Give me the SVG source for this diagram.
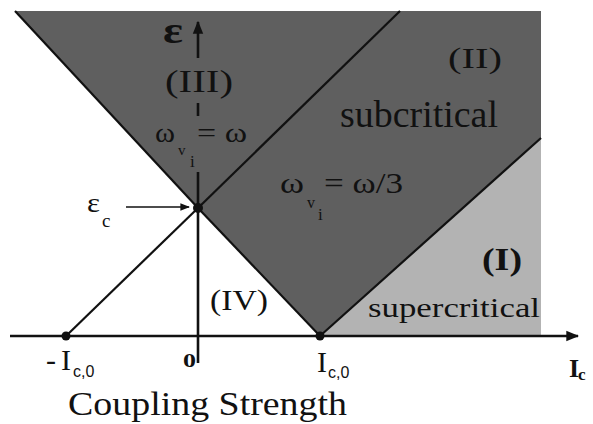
<svg xmlns="http://www.w3.org/2000/svg" width="593" height="424" viewBox="0 0 593 424">
<style>
text{font-family:'Liberation Serif','DejaVu Serif',serif;fill:#111}
.b{font-weight:bold}
.s{font-family:'Liberation Sans','DejaVu Sans',sans-serif}
.ln{stroke:#111;stroke-width:2.2;fill:none}
.ax{stroke:#111;stroke-width:2.6;fill:none}
</style>
<defs>
<marker id="ah" viewBox="0 0 10 10" refX="9" refY="5" markerWidth="5" markerHeight="5" orient="auto" markerUnits="strokeWidth"><path d="M0,1 L10,5 L0,9 Z" fill="#111"/></marker>
<marker id="ahs" viewBox="0 0 10 10" refX="9" refY="5" markerWidth="7" markerHeight="6" orient="auto" markerUnits="strokeWidth"><path d="M0,1 L10,5 L0,9 Z" fill="#111"/></marker>
</defs>
<rect width="593" height="424" fill="#fff"/>
<g id="regions">
<polygon id="region-dark" points="15,11 541,11 541,138 320,336 198,208" fill="#5f5f5f"/>
<polygon id="region-light" points="320,336 541,138 541,336" fill="#b3b3b3"/>
</g>
<g id="connectors">
<line class="ln" x1="15" y1="11" x2="198" y2="208"/>
<line class="ln" x1="198" y1="208" x2="400" y2="11"/>
<line class="ln" x1="198" y1="208" x2="320" y2="336"/>
<line class="ln" x1="66" y1="336" x2="198" y2="208"/>
<line class="ln" x1="320" y1="336" x2="541" y2="138"/>
<line class="ax" x1="10" y1="336" x2="578" y2="336" marker-end="url(#ah)"/>
<line class="ax" x1="198" y1="363" x2="198" y2="172"/>
<line class="ax" x1="198" y1="116" x2="198" y2="103"/>
<line class="ax" x1="198" y1="58" x2="198" y2="22" marker-end="url(#ah)"/>
<line x1="126" y1="207" x2="189" y2="207" stroke="#111" stroke-width="1.6" marker-end="url(#ahs)"/>
</g>
<g id="points">
<circle id="p-ec" cx="198" cy="208" r="5" fill="#111"/>
<circle id="p-mic0" cx="66" cy="336" r="4.5" fill="#111"/>
<circle id="p-ic0" cx="320" cy="336" r="4.5" fill="#111"/>
</g>
<g id="labels">
<text class="b" x="163" y="43" font-size="38" textLength="20" lengthAdjust="spacingAndGlyphs">ε</text>
<text x="165" y="92" font-size="32" textLength="68" lengthAdjust="spacingAndGlyphs">(III)</text>
<g id="lbl-omega1">
<text x="155" y="142" font-size="28" textLength="20" lengthAdjust="spacingAndGlyphs">ω</text>
<text x="178" y="155" font-size="15">v</text>
<text x="190" y="167" font-size="17">i</text>
<text x="197" y="142" font-size="28" textLength="50" lengthAdjust="spacingAndGlyphs">= ω</text>
</g>
<g id="lbl-ec">
<text x="87" y="212" font-size="28" textLength="13" lengthAdjust="spacingAndGlyphs">ε</text>
<text x="102" y="227" font-size="19">c</text>
</g>
<text x="448" y="68" font-size="30" textLength="54" lengthAdjust="spacingAndGlyphs">(II)</text>
<text x="340" y="127" font-size="38" textLength="158" lengthAdjust="spacingAndGlyphs">subcritical</text>
<g id="lbl-omega2">
<text x="280" y="193" font-size="30" textLength="24" lengthAdjust="spacingAndGlyphs">ω</text>
<text x="307" y="208" font-size="16">v</text>
<text x="318" y="220" font-size="17">i</text>
<text x="324" y="193" font-size="30" textLength="79" lengthAdjust="spacingAndGlyphs">= ω/3</text>
</g>
<text x="210" y="310" font-size="30" textLength="58" lengthAdjust="spacingAndGlyphs">(IV)</text>
<text class="b" x="482" y="270" font-size="32" textLength="40" lengthAdjust="spacingAndGlyphs">(I)</text>
<text x="368" y="317" font-size="27" textLength="172" lengthAdjust="spacingAndGlyphs">supercritical</text>
<g id="lbl-mic0">
<text x="46" y="370" font-size="30">-</text>
<text x="61" y="370" font-size="30">I</text>
<text class="s" x="73" y="377" font-size="16">c,0</text>
</g>
<text class="b" x="183" y="367" font-size="18" textLength="13" lengthAdjust="spacingAndGlyphs">0</text>
<g id="lbl-ic0">
<text x="317" y="372" font-size="30">I</text>
<text class="s" x="328" y="378" font-size="16">c,0</text>
</g>
<g id="lbl-ic">
<text class="b" x="569" y="377" font-size="26">I</text>
<text class="b" x="578" y="380" font-size="17">c</text>
</g>
<text x="68" y="415" font-size="34" textLength="279" lengthAdjust="spacingAndGlyphs">Coupling Strength</text>
</g>
</svg>
